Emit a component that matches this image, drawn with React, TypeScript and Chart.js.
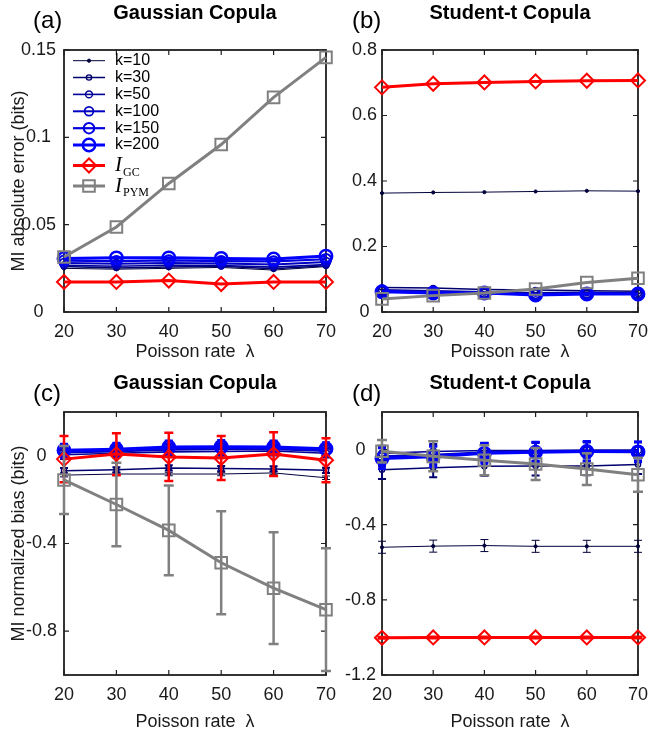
import React, { useEffect, useRef } from 'react';
import { Chart, registerables } from 'chart.js';

Chart.register(...registerables);

// ---------- data ----------
const lambda = [20, 30, 40, 50, 60, 70];
const kLabels = ['k=10', 'k=30', 'k=50', 'k=100', 'k=150', 'k=200'];

// (a) MI absolute error, Gaussian copula
const absG_k10 = [0.025, 0.0245, 0.025, 0.0255, 0.024, 0.026];
const absG_k30 = [0.026, 0.0252, 0.0257, 0.0262, 0.0247, 0.0265];
const absG_k50 = [0.0267, 0.0262, 0.0268, 0.0266, 0.0257, 0.0271];
const absG_k100 = [0.028, 0.0276, 0.0281, 0.0277, 0.0272, 0.0286];
const absG_k150 = [0.0294, 0.0291, 0.0295, 0.0291, 0.029, 0.0302];
const absG_k200 = [0.0307, 0.031, 0.031, 0.0307, 0.0304, 0.032];
const absG_gc = [0.0172, 0.0172, 0.018, 0.016, 0.0172, 0.0172];
const absG_pym = [0.0315, 0.0487, 0.0736, 0.0959, 0.1229, 0.1458];

// (b) MI absolute error, Student-t copula
const absT_k10 = [0.363, 0.365, 0.366, 0.368, 0.37, 0.369];
const absT_k30 = [0.075, 0.073, 0.069, 0.067, 0.065, 0.063];
const absT_k50 = [0.068, 0.065, 0.062, 0.059, 0.06, 0.058];
const absT_k100 = [0.065, 0.061, 0.059, 0.055, 0.057, 0.056];
const absT_k150 = [0.063, 0.059, 0.058, 0.053, 0.056, 0.055];
const absT_k200 = [0.062, 0.058, 0.058, 0.052, 0.055, 0.055];
const absT_gc = [0.686, 0.697, 0.701, 0.704, 0.706, 0.707];
const absT_pym = [0.04, 0.05, 0.058, 0.07, 0.09, 0.103];

// (c) MI normalized bias, Gaussian copula
const biasG_k10 = [-0.088, -0.083, -0.083, -0.083, -0.078, -0.1];
const biasG_k30 = [-0.068, -0.064, -0.055, -0.058, -0.06, -0.066];
const biasG_k50 = [0.005, 0.012, 0.018, 0.02, 0.022, 0.012];
const biasG_k100 = [0.015, 0.02, 0.028, 0.03, 0.03, 0.022];
const biasG_k150 = [0.02, 0.025, 0.035, 0.036, 0.035, 0.028];
const biasG_k200 = [0.025, 0.03, 0.04, 0.042, 0.04, 0.032];
const biasG_gc = [-0.015, 0.008, -0.005, -0.01, 0.008, -0.02];
const biasG_pym = [-0.11, -0.222, -0.34, -0.488, -0.604, -0.702];
const biasG_kErr = [0.008, 0.012, 0.02, 0.025, 0.03, 0.03];
const biasG_gcErr = [0.105, 0.095, 0.11, 0.1, 0.1, 0.1];
const biasG_pymErr = [0.155, 0.19, 0.205, 0.235, 0.255, 0.28];

// (d) MI normalized bias, Student-t copula
const biasT_k10 = [-0.52, -0.514, -0.511, -0.515, -0.515, -0.515];
const biasT_k30 = [-0.107, -0.097, -0.089, -0.088, -0.087, -0.08];
const biasT_k50 = [-0.02, -0.01, -0.005, -0.005, -0.003, -0.003];
const biasT_k100 = [-0.035, -0.028, -0.014, -0.01, -0.008, -0.008];
const biasT_k150 = [-0.042, -0.033, -0.017, -0.012, -0.009, -0.01];
const biasT_k200 = [-0.048, -0.038, -0.02, -0.014, -0.01, -0.012];
const biasT_gc = [-1.002, -1.0, -1.0, -1.0, -1.0, -1.0];
const biasT_pym = [-0.009, -0.036, -0.057, -0.077, -0.104, -0.134];
const biasT_kErr = [0.032, 0.05, 0.04, 0.05, 0.05, 0.055];
const biasT_gcErr = [0.004, 0.004, 0.004, 0.004, 0.004, 0.004];
const biasT_pymErr = [0.06, 0.08, 0.08, 0.085, 0.085, 0.09];

const yTicksA = [0, 0.05, 0.1, 0.15];
const yTicksB = [0, 0.2, 0.4, 0.6, 0.8];
const yTicksC = [-0.8, -0.4, 0];
const yTicksD = [-1.2, -0.8, -0.4, 0];

// ---------- styles ----------
const kColors = ['#00003a', '#00006e', '#000099', '#0000c2', '#0000e0', '#0000ff'];
const kRadius = [1.6, 2.6, 3.4, 4.4, 5.2, 6.2];
const kWidth = [1, 1.5, 1.6, 2, 2.2, 3];
const kPointBW = [1, 1.4, 1.5, 1.8, 2, 2.5];
const RED = '#ff0000';
const GRAY = '#808080';
const SANS = '"Liberation Sans", Arial, Helvetica, sans-serif';
const SERIF = '"Liberation Serif", "Times New Roman", serif';
const TXT = '#1a1a1a';

function drawMarker(ctx: CanvasRenderingContext2D, style: string, x: number, y: number, r: number, bw: number, color: string, fill: string) {
  ctx.beginPath();
  if (style === 'circle') ctx.arc(x, y, r, 0, Math.PI * 2);
  else if (style === 'rectRot') {
    ctx.moveTo(x - r, y); ctx.lineTo(x, y - r); ctx.lineTo(x + r, y); ctx.lineTo(x, y + r); ctx.closePath();
  } else {
    const s = r * Math.SQRT1_2;
    ctx.rect(x - s, y - s, 2 * s, 2 * s);
  }
  ctx.fillStyle = fill; ctx.fill();
  ctx.lineWidth = bw; ctx.strokeStyle = color; ctx.stroke();
}

const framePlugin = {
  id: 'matlabFrame',
  beforeDatasetsDraw(chart: any) {
    const { ctx, chartArea, scales } = chart;
    const { left, right, top, bottom } = chartArea;
    const x = scales.x, y = scales.y;
    ctx.save();
    ctx.strokeStyle = '#1f1f1f';
    ctx.lineWidth = 1.8;
    ctx.strokeRect(left, top, right - left, bottom - top);
    const L = 5;
    ctx.beginPath();
    x.ticks.forEach((t: any) => {
      const px = x.getPixelForValue(t.value);
      ctx.moveTo(px, bottom); ctx.lineTo(px, bottom - L);
      ctx.moveTo(px, top); ctx.lineTo(px, top + L);
    });
    y.ticks.forEach((t: any) => {
      const py = y.getPixelForValue(t.value);
      ctx.moveTo(left, py); ctx.lineTo(left + L, py);
      ctx.moveTo(right, py); ctx.lineTo(right - L, py);
    });
    ctx.lineWidth = 1.2;
    ctx.stroke();
    ctx.restore();
  },
};

const errorBarPlugin = {
  id: 'errorBars',
  beforeDatasetDraw(chart: any, args: any) {
    const ds: any = chart.data.datasets[args.index];
    if (!ds.errors) return;
    const { ctx, scales } = chart;
    const x = scales.x, y = scales.y;
    ctx.save();
    ctx.strokeStyle = ds.borderColor;
    ctx.lineWidth = ds.errWidth || 1;
    ctx.beginPath();
    const c = (ds.cap || 8) / 2;
    ds.data.forEach((p: any, i: number) => {
      const e = ds.errors[i];
      const px = x.getPixelForValue(p.x);
      const y1 = y.getPixelForValue(p.y + e);
      const y2 = y.getPixelForValue(p.y - e);
      ctx.moveTo(px, y1); ctx.lineTo(px, y2);
      ctx.moveTo(px - c, y1); ctx.lineTo(px + c, y1);
      ctx.moveTo(px - c, y2); ctx.lineTo(px + c, y2);
    });
    ctx.stroke();
    ctx.restore();
  },
};

function makeLegendPlugin(rows: number[], x0: number, x1: number, tx: number) {
  return {
    id: 'matlabLegend',
    afterDatasetsDraw(chart: any) {
      const ctx: CanvasRenderingContext2D = chart.ctx;
      chart.data.datasets.forEach((ds: any, i: number) => {
        const yr = rows[i];
        ctx.save();
        ctx.strokeStyle = ds.borderColor;
        ctx.lineWidth = ds.borderWidth;
        ctx.beginPath(); ctx.moveTo(x0, yr); ctx.lineTo(x1, yr); ctx.stroke();
        drawMarker(ctx, ds.pointStyle, (x0 + x1) / 2, yr, ds.pointRadius, ds.pointBorderWidth, ds.borderColor, ds.pointBackgroundColor);
        ctx.fillStyle = '#000';
        ctx.textAlign = 'left';
        ctx.textBaseline = 'middle';
        if (ds.label.startsWith('I_')) {
          ctx.font = `italic 21px ${SERIF}`;
          ctx.fillText('I', tx, yr);
          const w = ctx.measureText('I').width;
          ctx.font = `12px ${SERIF}`;
          ctx.fillText(ds.label.slice(2), tx + w + 1, yr + 7);
        } else {
          ctx.font = `16px ${SANS}`;
          ctx.fillText(ds.label, tx, yr);
        }
        ctx.restore();
      });
    },
  };
}

type PanelProps = {
  left: number; top: number; width: number; height: number;
  title: string; titlePadTop: number; titlePadBottom: number;
  yTitle?: string; padLeft: number; padRight: number; yAxisWidth: number; xAxisHeight: number; yTickPad: number;
  yMin: number; yMax: number; yTicks: number[];
  k: number[][]; kErr?: number[]; gc: number[]; gcErr?: number[]; pym: number[]; pymErr?: number[];
  legend?: boolean;
};

function Panel(p: PanelProps) {
  const ref = useRef<HTMLCanvasElement>(null);
  useEffect(() => {
    const n = 8;
    const ds: any[] = [];
    p.k.forEach((vals, i) => {
      ds.push({
        label: kLabels[i],
        data: vals.map((v, j) => ({ x: lambda[j], y: v })),
        borderColor: kColors[i], backgroundColor: kColors[i],
        borderWidth: kWidth[i],
        pointStyle: 'circle', pointRadius: kRadius[i], pointHoverRadius: kRadius[i],
        pointBorderWidth: kPointBW[i], pointBorderColor: kColors[i],
        pointBackgroundColor: i === 0 ? kColors[i] : 'rgba(0,0,0,0)',
        errors: p.kErr ? vals.map(() => p.kErr![i]) : undefined,
        errWidth: i === 0 ? 1 : 2, cap: 8,
        tension: 0, clip: false, order: n - i,
      });
    });
    ds.push({
      label: 'I_GC',
      data: p.gc.map((v, j) => ({ x: lambda[j], y: v })),
      borderColor: RED, backgroundColor: RED, borderWidth: 3,
      pointStyle: 'rectRot', pointRadius: 7, pointHoverRadius: 7, pointBorderWidth: 2,
      pointBorderColor: RED, pointBackgroundColor: 'rgba(0,0,0,0)',
      errors: p.gcErr, errWidth: 2.5, cap: 9,
      tension: 0, clip: false, order: 2,
    });
    ds.push({
      label: 'I_PYM',
      data: p.pym.map((v, j) => ({ x: lambda[j], y: v })),
      borderColor: GRAY, backgroundColor: GRAY, borderWidth: 3,
      pointStyle: 'rect', pointRadius: 8.2, pointHoverRadius: 8.2, pointBorderWidth: 2,
      pointBorderColor: GRAY, pointBackgroundColor: 'rgba(0,0,0,0)',
      errors: p.pymErr, errWidth: 2.5, cap: 10,
      tension: 0, clip: false, order: 1,
    });

    const plugins: any[] = [framePlugin, errorBarPlugin];
    if (p.legend) plugins.push(makeLegendPlugin([60.7, 77.5, 94.4, 111.3, 128.2, 145, 165.5, 186], 73, 105, 115));

    const chart = new Chart(ref.current!, {
      type: 'line',
      data: { datasets: ds },
      options: {
        responsive: false,
        animation: false,
        events: [],
        layout: { padding: { left: p.padLeft, right: p.padRight, top: 0, bottom: 0 } },
        plugins: {
          legend: { display: false },
          tooltip: { enabled: false },
          title: {
            display: true, text: p.title, fullSize: false, align: 'center', color: '#000',
            font: { family: SANS, size: 20, weight: 'bold', lineHeight: 1.2 },
            padding: { top: p.titlePadTop, bottom: p.titlePadBottom },
          },
        },
        scales: {
          x: {
            type: 'linear', min: 20, max: 70,
            afterBuildTicks: (s: any) => { s.ticks = lambda.map((v) => ({ value: v })); },
            afterFit: (s: any) => { s.height = p.xAxisHeight; },
            grid: { display: false, drawTicks: false },
            border: { display: false },
            ticks: { color: TXT, font: { family: SANS, size: 18 }, padding: 9, maxRotation: 0, autoSkip: false, callback: (v: any) => String(v) },
            title: { display: true, text: 'Poisson rate  λ', color: TXT, font: { family: SANS, size: 18, lineHeight: 1.2 }, padding: 0 },
          },
          y: {
            type: 'linear', min: p.yMin, max: p.yMax,
            afterBuildTicks: (s: any) => { s.ticks = p.yTicks.map((v) => ({ value: v })); },
            afterFit: (s: any) => { s.width = p.yAxisWidth; },
            grid: { display: false, drawTicks: false },
            border: { display: false },
            ticks: { color: TXT, font: { family: SANS, size: 18 }, padding: p.yTickPad, crossAlign: 'center', callback: (v: any) => String(+Number(v).toFixed(4)) },
            title: { display: !!p.yTitle, text: p.yTitle || '', color: TXT, font: { family: SANS, size: 18, lineHeight: 1.2 }, padding: 0 },
          },
        },
      } as any,
      plugins,
    });
    return () => chart.destroy();
  }, []);
  return (
    <div style={{ position: 'absolute', left: p.left, top: p.top, width: p.width, height: p.height }}>
      <canvas ref={ref} width={p.width} height={p.height} style={{ width: p.width, height: p.height, display: 'block' }} />
    </div>
  );
}

const labelStyle = (left: number, top: number): React.CSSProperties => ({
  position: 'absolute', left, top, fontFamily: SANS, fontSize: 24, lineHeight: '24px', color: '#000', whiteSpace: 'nowrap',
});

export default function App() {
  return (
    <div style={{ position: 'absolute', left: 0, top: 0, width: 657, height: 733, background: '#fff', overflow: 'hidden' }}>
      <Panel left={0} top={0} width={345} height={363} title="Gaussian Copula" titlePadTop={1} titlePadBottom={25}
        yTitle="MI absolute error (bits)" padLeft={8} padRight={15} yAxisWidth={56} xAxisHeight={51} yTickPad={8}
        yMin={0} yMax={0.15} yTicks={yTicksA}
        k={[absG_k10, absG_k30, absG_k50, absG_k100, absG_k150, absG_k200]} gc={absG_gc} pym={absG_pym} legend />
      <Panel left={330} top={0} width={327} height={363} title="Student-t Copula" titlePadTop={1} titlePadBottom={25}
        padLeft={0} padRight={12} yAxisWidth={52} xAxisHeight={51} yTickPad={5}
        yMin={0} yMax={0.8} yTicks={yTicksB}
        k={[absT_k10, absT_k30, absT_k50, absT_k100, absT_k150, absT_k200]} gc={absT_gc} pym={absT_pym} />
      <Panel left={0} top={365} width={345} height={368} title="Gaussian Copula" titlePadTop={6} titlePadBottom={17}
        yTitle="MI normalized bias (bits)" padLeft={8} padRight={15} yAxisWidth={56} xAxisHeight={58} yTickPad={7}
        yMin={-1.0} yMax={0.2} yTicks={yTicksC}
        k={[biasG_k10, biasG_k30, biasG_k50, biasG_k100, biasG_k150, biasG_k200]} kErr={biasG_kErr}
        gc={biasG_gc} gcErr={biasG_gcErr} pym={biasG_pym} pymErr={biasG_pymErr} />
      <Panel left={330} top={365} width={327} height={368} title="Student-t Copula" titlePadTop={6} titlePadBottom={17}
        padLeft={0} padRight={12} yAxisWidth={52} xAxisHeight={58} yTickPad={6}
        yMin={-1.2} yMax={0.2} yTicks={yTicksD}
        k={[biasT_k10, biasT_k30, biasT_k50, biasT_k100, biasT_k150, biasT_k200]} kErr={biasT_kErr}
        gc={biasT_gc} gcErr={biasT_gcErr} pym={biasT_pym} pymErr={biasT_pymErr} />
      <div style={labelStyle(33, 8)}>(a)</div>
      <div style={labelStyle(352, 8)}>(b)</div>
      <div style={labelStyle(33, 381)}>(c)</div>
      <div style={labelStyle(352, 381)}>(d)</div>
    </div>
  );
}
